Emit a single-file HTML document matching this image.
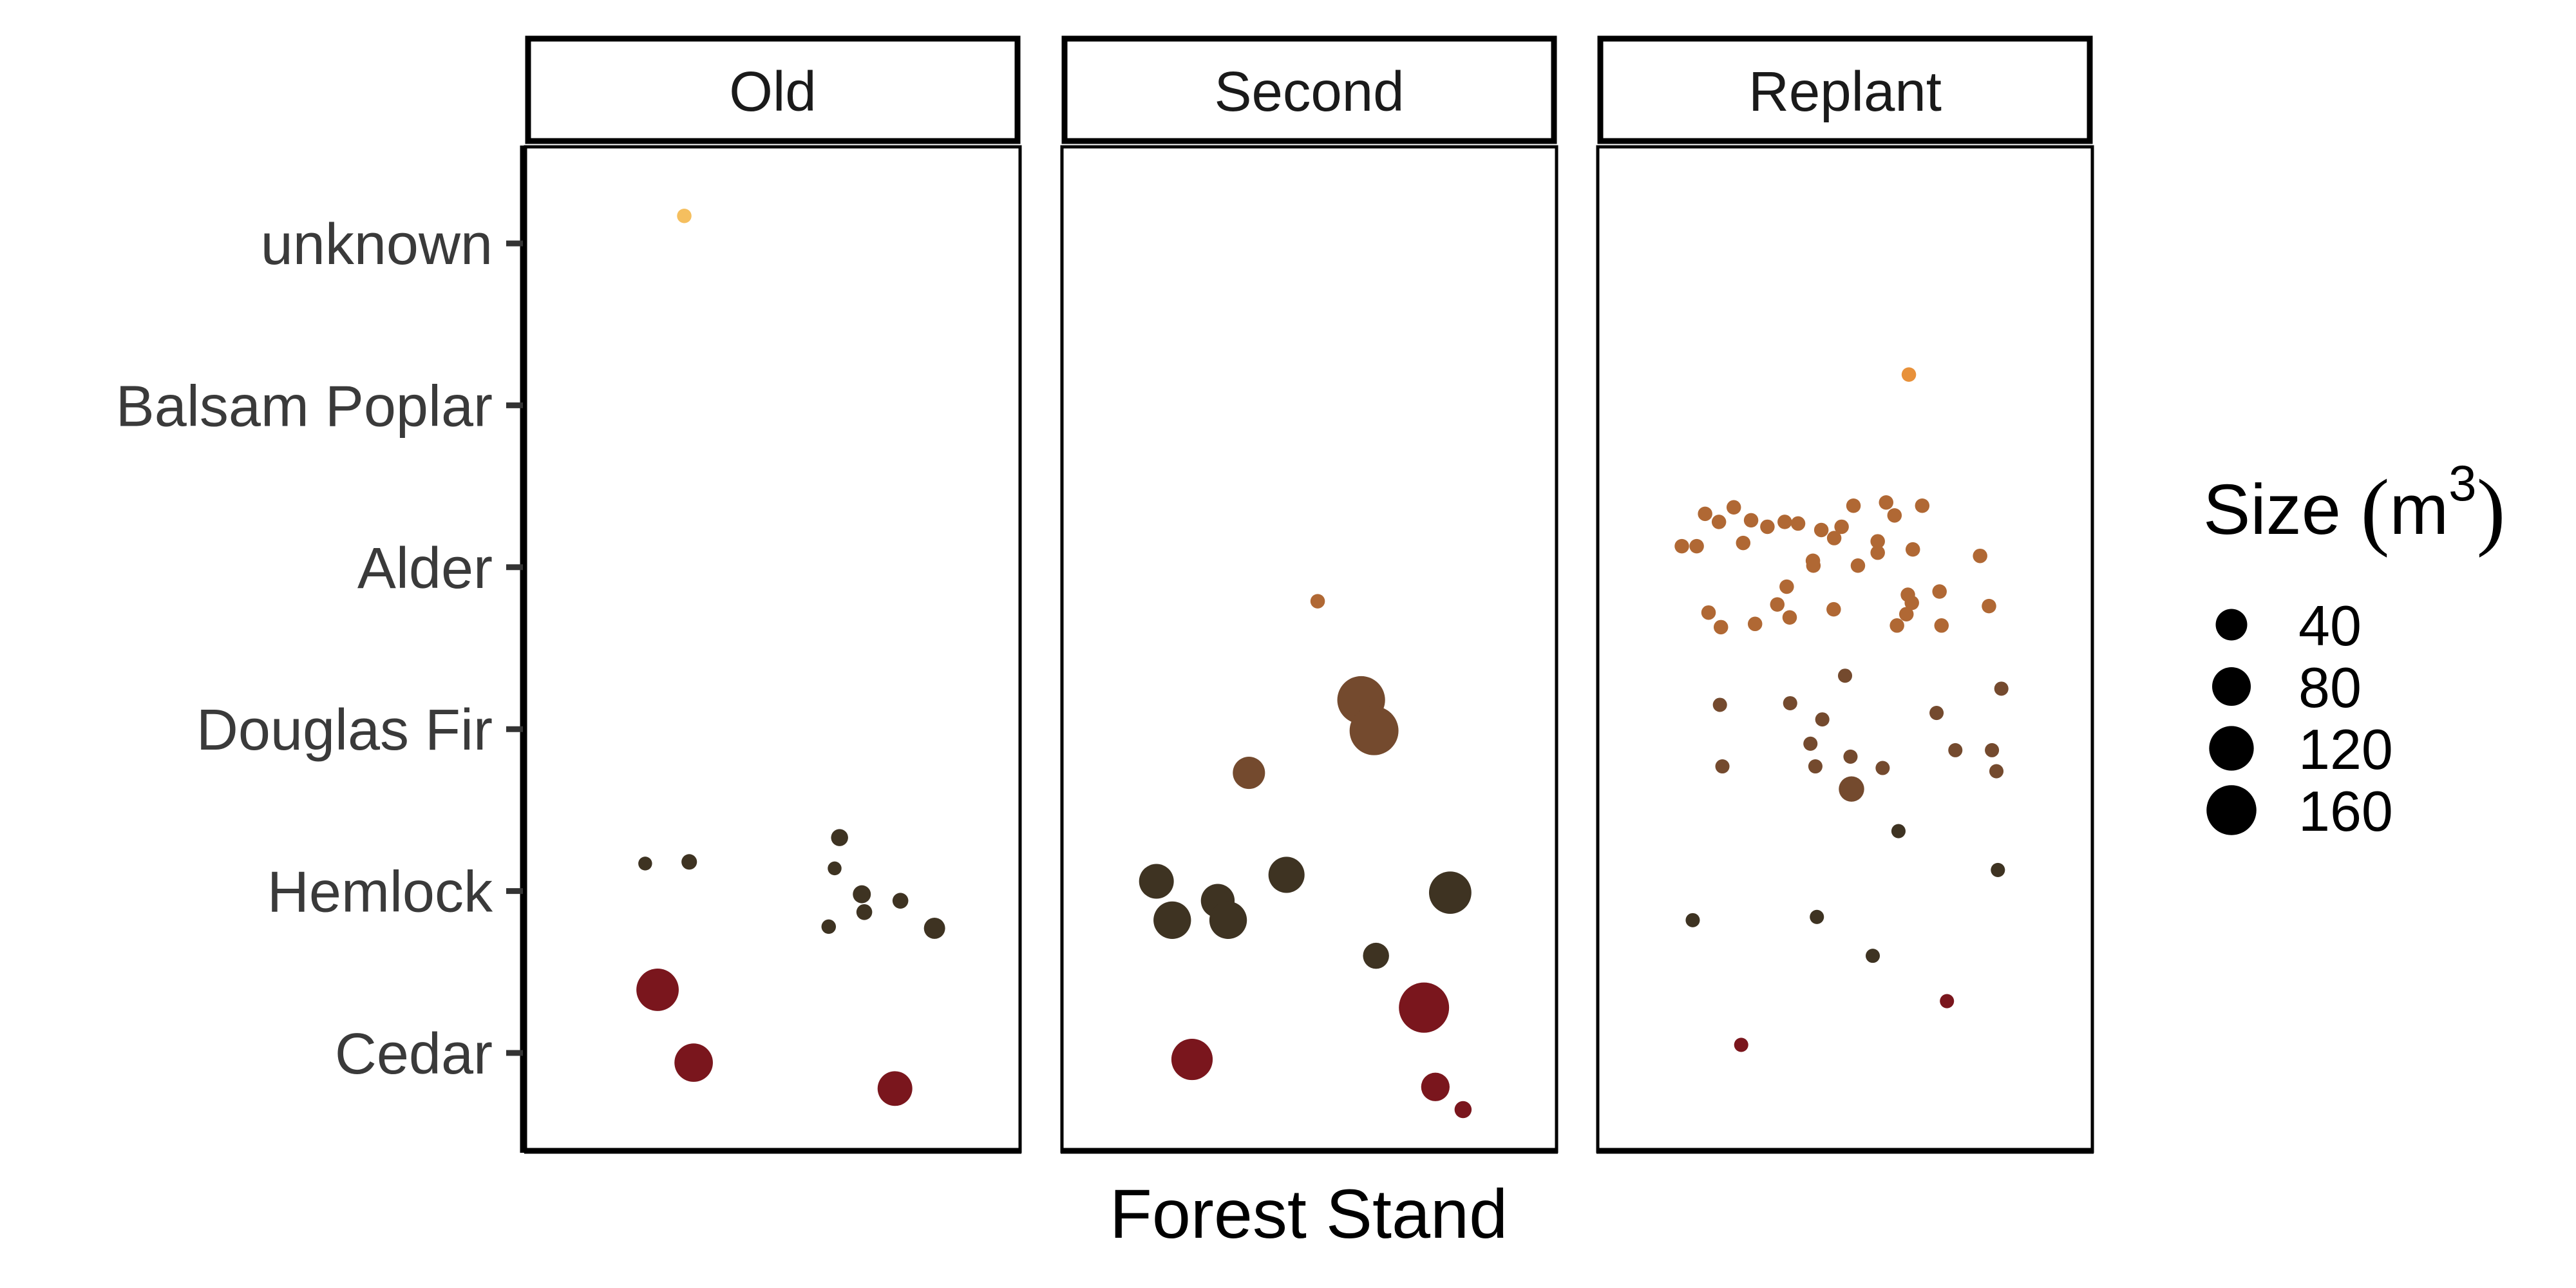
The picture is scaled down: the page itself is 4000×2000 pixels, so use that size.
<!DOCTYPE html>
<html><head><meta charset="utf-8"><style>
html,body{margin:0;padding:0;background:#fff;}
svg{display:block;font-family:"Liberation Sans",Arial,sans-serif;}
</style></head><body>
<svg id="chart" width="4000" height="2000" viewBox="0 0 4000 2000" xmlns="http://www.w3.org/2000/svg">
<rect width="4000" height="2000" fill="#fff"/>
<g id="panels"></g>
<g id="yaxis"></g>
<g id="points"></g>
<text x="2032" y="1922" font-size="108" text-anchor="middle" fill="#000">Forest Stand</text>
<g>
<text x="3421" y="829" font-size="110" fill="#000">Size <tspan font-family="Liberation Serif,serif" font-size="135" dy="8">(</tspan><tspan dy="-8">m</tspan><tspan font-size="78" dy="-52">3</tspan><tspan font-family="Liberation Serif,serif" font-size="135" dy="60">)</tspan></text>
<g id="legend-keys"></g>
</g>
</svg>
<script>
const NS='http://www.w3.org/2000/svg';
const species=['Cedar','Hemlock','Douglas Fir','Alder','Balsam Poplar','unknown'];
const speciesColors=['#7a161d','#3e3322','#744a2e','#b06834','#e8913a','#f5bf5f'];
const stands=['Old','Second','Replant'];
const legendValues=[40,80,120,160];
const oldX=[0.321,0.242,0.331,0.635,0.625,0.680,0.685,0.758,0.613,0.827,0.267,0.340,0.747];
const oldY=[6.17,2.17,2.18,2.33,2.14,1.98,1.87,1.94,1.78,1.77,1.39,0.94,0.78];
const oldV=[0.3,0.1,0.8,2,0.1,3,1,1,0.3,8,100,75,55];
const oldS=[5,1,1,1,1,1,1,1,1,1,0,0,0];
const secX=[0.517,0.605,0.631,0.378,0.191,0.223,0.315,0.336,0.454,0.785,0.635,0.732,0.263,0.755,0.811];
const secY=[3.79,3.18,2.99,2.73,2.06,1.82,1.94,1.82,2.10,1.99,1.60,1.28,0.96,0.79,0.65];
const secV=[0.3,140,149,43,55,70,50,70,62,100,20,160,93,28,2];
const secS=[3,2,2,2,1,1,1,1,1,1,1,0,0,0,0];
const repX=[0.629,0.217,0.245,0.275,0.310,0.343,0.378,0.405,0.452,0.493,0.478,0.517,0.583,0.600,0.656,0.170,0.200,0.294,0.566,0.566,0.637,0.435,0.436,0.526,0.773,0.382,0.363,0.224,0.249,0.318,0.388,0.477,0.627,0.635,0.624,0.605,0.691,0.695,0.791,
 0.500,0.816,0.247,0.389,0.454,0.685,0.430,0.511,0.723,0.797,0.252,0.440,0.576,0.806,0.513,0.608,0.809,0.192,0.443,0.556,0.706,0.290];
const repY=[5.19,4.33,4.28,4.37,4.29,4.25,4.28,4.27,4.23,4.25,4.18,4.38,4.40,4.32,4.38,4.13,4.13,4.15,4.16,4.09,4.11,4.04,4.01,4.01,4.07,3.88,3.77,3.72,3.63,3.65,3.69,3.74,3.83,3.78,3.71,3.64,3.85,3.64,3.76,
 3.33,3.25,3.15,3.16,3.06,3.10,2.91,2.83,2.87,2.87,2.77,2.77,2.76,2.74,2.63,2.37,2.13,1.82,1.84,1.60,1.32,1.05];
const repV=[0.3,0.3,0.3,0.3,0.3,0.3,0.3,0.3,0.3,0.3,0.3,0.3,0.3,0.3,0.3,0.3,0.3,0.3,0.3,0.3,0.3,0.3,0.3,0.3,0.3,0.3,0.3,0.3,0.3,0.3,0.3,0.3,0.3,0.3,0.3,0.3,0.3,0.3,0.3,
 0.2,0.2,0.2,0.2,0.2,0.2,0.2,0.2,0.2,0.2,0.2,0.2,0.2,0.2,18,0.2,0.2,0.2,0.2,0.2,0.2,0.2];
const repS=[4,3,3,3,3,3,3,3,3,3,3,3,3,3,3,3,3,3,3,3,3,3,3,3,3,3,3,3,3,3,3,3,3,3,3,3,3,3,3,
 2,2,2,2,2,2,2,2,2,2,2,2,2,2,2,1,1,1,1,1,0,0];

const panelLeft=[816,1649,2481], panelW=768, panelTop=226, panelBottom=1790;
const yScale=c=>1635-(c-1)*251.4;
const xScale=(s,f)=>panelLeft[s]+f*panelW;
const rScale=v=>10+2.29*Math.sqrt(v);

function mk(tag,attrs,parent){const e=document.createElementNS(NS,tag);for(const k in attrs)e.setAttribute(k,attrs[k]);parent.appendChild(e);return e;}
const gP=document.getElementById('panels');
stands.forEach((s,i)=>{
  const L=panelLeft[i];
  const strip=mk('rect',{x:L+4,y:60,width:panelW-8,height:159,fill:'#fff',stroke:'#000','stroke-width':9},gP);
  
  
  const t=mk('text',{x:L+panelW/2,y:172,'font-size':87,'text-anchor':'middle',fill:'#1a1a1a'},gP);
  t.textContent=s;
  
  
  const p=mk('rect',{x:L,y:panelTop+2,width:panelW,height:panelBottom-panelTop-4,fill:'none',stroke:'#000','stroke-width':5},gP);
  
  
  const b=mk('line',{x1:L-2,x2:L+panelW+2,y1:panelBottom-3,y2:panelBottom-3,stroke:'#000','stroke-width':9},gP);
  
  
});
const ya=document.getElementById('yaxis');
const al=mk('line',{x1:812,x2:812,y1:panelTop,y2:panelBottom,stroke:'#000','stroke-width':9},ya);


species.forEach((sp,i)=>{
  const y=yScale(i+1);
  const tk=mk('line',{x1:786,x2:812,y1:y,y2:y,stroke:'#333','stroke-width':9},ya);
  
  
  const t=mk('text',{x:765,y:y+32,'font-size':90,'text-anchor':'end',fill:'#3a3a3a'},ya);
  t.textContent=sp;
  
  
});
const gPts=document.getElementById('points');
function drawSet(stand,X,Y,V,S){
  for(let i=0;i<X.length;i++){
    const c=mk('circle',{cx:xScale(stand,X[i]),cy:yScale(Y[i]),r:rScale(V[i]),fill:speciesColors[S[i]]},gPts);
    
    
  }
}
drawSet(0,oldX,oldY,oldV,oldS);
drawSet(1,secX,secY,secV,secS);
drawSet(2,repX,repY,repV,repS);
const lk=document.getElementById('legend-keys');
legendValues.forEach((v,i)=>{
  const cy=970+i*96;
  const c=mk('circle',{cx:3465,cy:cy,r:Math.sqrt(300+7.5*v),fill:'#000'},lk);
  
  
  const t=mk('text',{x:3569,y:cy+32,'font-size':88,fill:'#000'},lk);
  t.textContent=v;
  
  
});
</script>
</body></html>
